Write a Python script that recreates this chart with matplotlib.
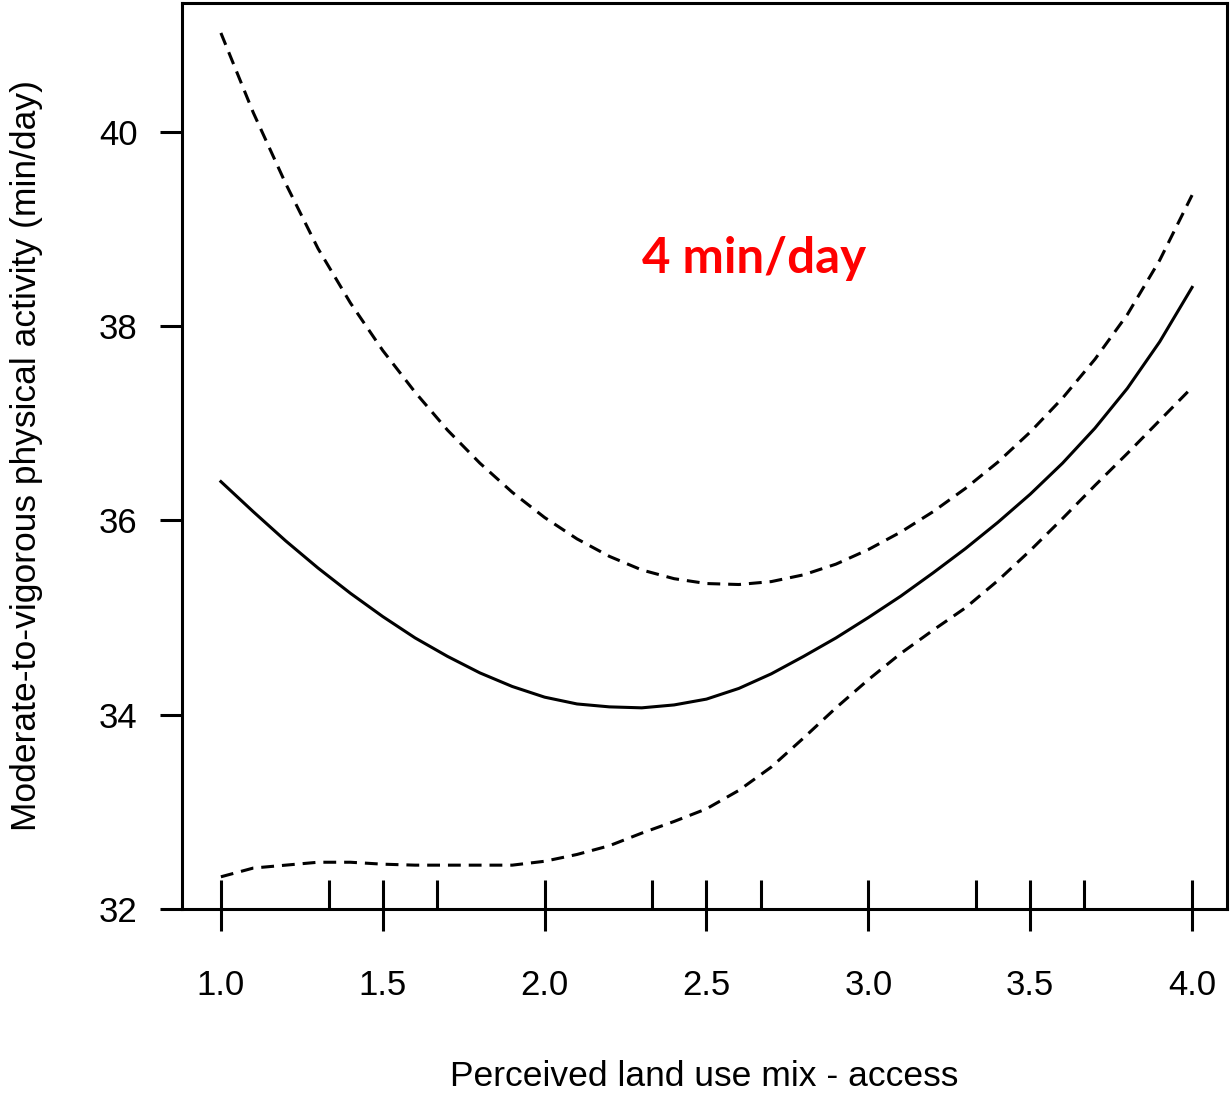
import numpy as np
import matplotlib.pyplot as plt

# land use mix score (x) and fitted MVPA with 95% band
x = [1.0, 1.1, 1.2, 1.3, 1.4, 1.5, 1.6, 1.7, 1.8, 1.9, 2.0,
     2.1, 2.2, 2.3, 2.4, 2.5, 2.6, 2.7, 2.8, 2.9, 3.0,
     3.1, 3.2, 3.3, 3.4, 3.5, 3.6, 3.7, 3.8, 3.9, 4.0]
fit = [36.40, 36.09, 35.79, 35.51, 35.25, 35.01, 34.79, 34.60, 34.43, 34.29, 34.18,
       34.11, 34.08, 34.07, 34.10, 34.16, 34.27, 34.42, 34.60, 34.79, 35.00,
       35.22, 35.46, 35.71, 35.98, 36.27, 36.59, 36.95, 37.36, 37.84, 38.40]
upper = [41.02, 40.20, 39.47, 38.80, 38.24, 37.75, 37.32, 36.93, 36.59, 36.29, 36.03,
         35.81, 35.63, 35.49, 35.40, 35.35, 35.34, 35.37, 35.44, 35.55, 35.70,
         35.88, 36.09, 36.33, 36.60, 36.91, 37.26, 37.66, 38.12, 38.68, 39.35]
lower = [32.33, 32.42, 32.45, 32.48, 32.48, 32.46, 32.45, 32.45, 32.45, 32.45, 32.49,
         32.56, 32.65, 32.78, 32.90, 33.03, 33.22, 33.46, 33.76, 34.07, 34.36,
         34.63, 34.87, 35.10, 35.38, 35.69, 36.02, 36.36, 36.69, 37.03, 37.37]

# observed values shown as a rug
rug = [1.0, 1.333, 1.5, 1.667, 2.0, 2.333, 2.5, 2.667, 3.0, 3.333, 3.5, 3.667, 4.0]

xticks = [1.0, 1.5, 2.0, 2.5, 3.0, 3.5, 4.0]
yticks = [32, 34, 36, 38, 40]

plt.rcParams['font.family'] = ['Liberation Sans', 'DejaVu Sans']

fig = plt.figure(figsize=(12.3, 10.95), dpi=100)
ax = fig.add_axes([0.148, 0.170, 0.8496, 0.8274])

ax.plot(x, fit, color='black', lw=2.2)
dash = (4.2, 2.6)
ax.plot(x, upper, color='black', lw=2.2, linestyle=(0, dash))
ax.plot(x, lower, color='black', lw=2.2, linestyle=(0, dash))

ax.vlines(rug, 0, 0.032, color='black', lw=2.2, transform=ax.get_xaxis_transform())

ax.set_xlim(0.88, 4.108)
ax.set_ylim(32, 41.33)
ax.set_xticks(xticks)
ax.set_xticklabels([f'{v:.1f}' for v in xticks])
ax.set_yticks(yticks)
ax.set_yticklabels([str(v) for v in yticks])

for s in ax.spines.values():
    s.set_linewidth(2.2)
ax.tick_params(axis='both', length=16, width=2.2, labelsize=25, color='black')
ax.tick_params(axis='x', pad=27)
ax.tick_params(axis='y', pad=16)

ax.set_xlabel('Perceived land use mix - access', fontsize=25.5)
ax.set_ylabel('Moderate-to-vigorous physical activity (min/day)', fontsize=25.5)
ax.xaxis.set_label_coords(0.5, -0.167)
ax.yaxis.set_label_coords(-0.133, 0.5)

ax.text(2.647, 38.55, '4 min/day', color='#ff0000', fontsize=35.5, fontweight='bold',
        family=['Lato', 'DejaVu Sans'], ha='center', va='baseline')

fig.savefig('out.png', dpi=100)
